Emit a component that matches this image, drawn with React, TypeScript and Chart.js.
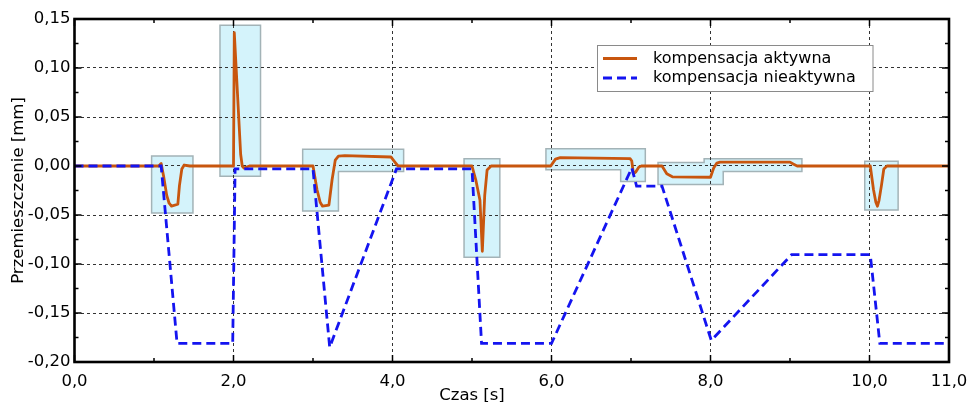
import React, { useEffect, useRef } from 'react';
import { Chart, registerables } from 'chart.js';

Chart.register(...registerables);

// ---- data ----
const seriesLabels = ['kompensacja aktywna', 'kompensacja nieaktywna'];

const activeX = [
  0, 1.06, 1.09, 1.12, 1.16, 1.19, 1.22, 1.30, 1.32, 1.35, 1.38, 1.45,
  2.0, 2.01, 2.09, 2.11, 2.13, 2.2,
  3.0, 3.05, 3.09, 3.12, 3.2, 3.24, 3.28, 3.32, 3.4, 3.98, 4.03, 4.07,
  5.0, 5.05, 5.1, 5.13, 5.16, 5.19, 5.24,
  5.99, 6.05, 6.11, 6.99, 7.01, 7.03, 7.06, 7.1, 7.13,
  7.39, 7.45, 7.52, 8.0, 8.04, 8.08, 8.12, 9.0, 9.04, 9.09,
  10.01, 10.05, 10.08, 10.1, 10.12, 10.15, 10.18, 10.22, 11,
];
const activeY = [
  0, 0, 0.0025, -0.01, -0.03, -0.038, -0.041, -0.039, -0.02, -0.003, 0.001, 0,
  0, 0.136, 0.012, 0, -0.002, 0,
  0, -0.024, -0.037, -0.041, -0.04, -0.014, 0.006, 0.01, 0.0105, 0.0092, 0.004, 0,
  0, -0.015, -0.035, -0.087, -0.03, -0.004, 0,
  0, 0.007, 0.0085, 0.0075, 0.005, -0.008, -0.006, -0.001, 0,
  0, -0.008, -0.011, -0.0115, -0.002, 0.003, 0.004, 0.004, 0.002, 0,
  0, -0.024, -0.037, -0.041, -0.035, -0.02, -0.003, 0, 0,
];

const inactiveX = [0, 1.09, 1.29, 1.99, 2.02, 3.0, 3.21, 4.05, 5.0, 5.12, 6.0, 7.01, 7.07, 7.39, 8.01, 9.02, 10.01, 10.13, 11];
const inactiveY = [0, 0, -0.181, -0.181, -0.003, -0.003, -0.185, -0.003, -0.003, -0.181, -0.181, -0.002, -0.0205, -0.0205, -0.178, -0.0905, -0.0905, -0.181, -0.181];

// highlighted regions (polygons in data units: [time, displacement])
const regionBoxes: number[][][] = [
  [[0.97, 0.0102], [1.49, 0.0102], [1.49, -0.048], [0.97, -0.048]],
  [[1.83, 0.1436], [2.34, 0.1436], [2.34, -0.0105], [1.83, -0.0105]],
  [[2.87, 0.017], [4.14, 0.017], [4.14, -0.0057], [3.32, -0.0057], [3.32, -0.046], [2.87, -0.046]],
  [[4.9, 0.0075], [5.35, 0.0075], [5.35, -0.093], [4.9, -0.093]],
  [[5.93, 0.0177], [7.18, 0.0177], [7.18, -0.0159], [6.87, -0.0159], [6.87, -0.0037], [5.93, -0.0037]],
  [[7.34, 0.0035], [7.92, 0.0035], [7.92, 0.0075], [9.15, 0.0075], [9.15, -0.0057], [8.16, -0.0057], [8.16, -0.019], [7.34, -0.019]],
  [[9.94, 0.0048], [10.36, 0.0048], [10.36, -0.045], [9.94, -0.045]],
];

const xTickValues = [0, 2, 4, 6, 8, 10, 11];
const xMinorValues = [1, 3, 5, 7, 9];
const yTickValues = [-0.2, -0.15, -0.1, -0.05, 0, 0.05, 0.1, 0.15];
const yMinorValues = [-0.175, -0.125, -0.075, -0.025, 0.025, 0.075, 0.125];
const xTitle = 'Czas [s]';
const yTitle = 'Przemieszczenie [mm]';
const xTitleAt = 5;

const FONT = 'DejaVu Sans';
const ORANGE = '#c8560e';
const BLUE = '#1414f0';

const fmt = (v: number, d: number) => v.toFixed(d).replace('.', ',');

const regionsPlugin = {
  id: 'regions',
  beforeDraw(chart: any) {
    const { ctx, chartArea, scales } = chart;
    const x = scales.x, y = scales.y;
    ctx.save();
    ctx.fillStyle = '#ffffff';
    ctx.fillRect(0, 0, chart.width, chart.height);
    ctx.beginPath();
    ctx.rect(chartArea.left, chartArea.top, chartArea.right - chartArea.left, chartArea.bottom - chartArea.top);
    ctx.clip();
    for (const poly of regionBoxes) {
      ctx.beginPath();
      poly.forEach(([vx, vy], i) => {
        const px = x.getPixelForValue(vx);
        const py = y.getPixelForValue(vy);
        if (i === 0) ctx.moveTo(px, py); else ctx.lineTo(px, py);
      });
      ctx.closePath();
      ctx.fillStyle = '#d4f3fb';
      ctx.fill();
      ctx.strokeStyle = '#a3b3b7';
      ctx.lineWidth = 1.5;
      ctx.stroke();
    }
    ctx.restore();
  },
};

const framePlugin = {
  id: 'frame',
  afterDraw(chart: any) {
    const { ctx, chartArea, scales } = chart;
    const { left, right, top, bottom } = chartArea;
    const x = scales.x, y = scales.y;
    ctx.save();
    ctx.strokeStyle = '#000';
    ctx.lineWidth = 1.5;
    const line = (x1: number, y1: number, x2: number, y2: number) => {
      ctx.beginPath(); ctx.moveTo(x1, y1); ctx.lineTo(x2, y2); ctx.stroke();
    };
    const xt = (v: number, len: number) => {
      const p = x.getPixelForValue(v);
      line(p, bottom, p, bottom - len);
      line(p, top, p, top + len);
    };
    const yt = (v: number, len: number) => {
      const p = y.getPixelForValue(v);
      line(left, p, left + len, p);
      line(right, p, right - len, p);
    };
    xTickValues.forEach((v) => xt(v, 7));
    xMinorValues.forEach((v) => xt(v, 4));
    yTickValues.forEach((v) => yt(v, 7));
    yMinorValues.forEach((v) => yt(v, 4));
    ctx.lineWidth = 2.6;
    ctx.strokeRect(left, top, right - left, bottom - top);

    // x axis title
    ctx.fillStyle = '#000';
    ctx.font = `16.5px "${FONT}"`;
    ctx.textAlign = 'center';
    ctx.textBaseline = 'alphabetic';
    ctx.fillText(xTitle, x.getPixelForValue(xTitleAt), 400);

    // legend
    const lx = 597.5, ly = 45.5, lw = 275.5, lh = 46;
    ctx.fillStyle = '#fff';
    ctx.fillRect(lx, ly, lw, lh);
    ctx.strokeStyle = '#8a8a8a';
    ctx.lineWidth = 1;
    ctx.strokeRect(lx, ly, lw, lh);
    ctx.font = `16px "${FONT}"`;
    const rows = [
      { color: ORANGE, dash: [] as number[], yy: 58.5 },
      { color: BLUE, dash: [9, 5], yy: 78 },
    ];
    rows.forEach((r, i) => {
      ctx.strokeStyle = r.color;
      ctx.lineWidth = 2.8;
      ctx.setLineDash(r.dash);
      line(603, r.yy, 637, r.yy);
      ctx.setLineDash([]);
      ctx.fillStyle = '#000';
      ctx.textAlign = 'left';
      ctx.textBaseline = 'middle';
      ctx.fillText(seriesLabels[i], 653, r.yy);
    });
    ctx.restore();
  },
};

export default function App() {
  const ref = useRef<HTMLCanvasElement | null>(null);
  useEffect(() => {
    document.body.style.margin = '0';
    const canvas = ref.current;
    if (!canvas) return;
    const chart = new Chart(canvas, {
      type: 'line',
      data: {
        datasets: [
          {
            label: seriesLabels[0],
            data: activeX.map((v, i) => ({ x: v, y: activeY[i] })),
            borderColor: ORANGE,
            borderWidth: 2.8,
            pointRadius: 0,
            tension: 0,
            fill: false,
            order: 2,
            borderJoinStyle: 'round',
          },
          {
            label: seriesLabels[1],
            data: inactiveX.map((v, i) => ({ x: v, y: inactiveY[i] })),
            borderColor: BLUE,
            borderWidth: 2.8,
            borderDash: [9, 5],
            pointRadius: 0,
            tension: 0,
            fill: false,
            order: 1,
          },
        ],
      },
      options: {
        responsive: false,
        animation: false,
        events: [],
        layout: { padding: { left: 0, right: 22, top: 19, bottom: 0 } },
        plugins: { legend: { display: false }, tooltip: { enabled: false } },
        scales: {
          x: {
            type: 'linear',
            min: 0,
            max: 11,
            afterBuildTicks: (s: any) => { s.ticks = xTickValues.map((v) => ({ value: v })); },
            afterFit: (s: any) => { s.height = 40; s.paddingLeft = 0; s.paddingRight = 0; },
            ticks: {
              color: '#000',
              font: { family: FONT, size: 16.5 },
              padding: 10,
              maxRotation: 0,
              autoSkip: false,
              callback: (v: any) => fmt(Number(v), 1),
            },
            grid: {
              drawTicks: false,
              color: (c: any) => (c.tick && (c.tick.value === 0 || c.tick.value === 11) ? 'rgba(0,0,0,0)' : '#333'),
              lineWidth: 1,
            },
            border: { display: false, dash: [3, 3] },
          },
          y: {
            type: 'linear',
            min: -0.2,
            max: 0.15,
            afterBuildTicks: (s: any) => { s.ticks = yTickValues.map((v) => ({ value: v })); },
            afterFit: (s: any) => { s.width = 74.5; s.paddingTop = 0; s.paddingBottom = 0; },
            ticks: {
              color: '#000',
              font: { family: FONT, size: 16.5 },
              padding: 4,
              autoSkip: false,
              callback: (v: any) => fmt(Number(v), 2),
            },
            title: {
              display: true,
              text: yTitle,
              color: '#000',
              font: { family: FONT, size: 16.5 },
              padding: { top: 9, bottom: 0 },
            },
            grid: {
              drawTicks: false,
              color: (c: any) => (c.tick && (Math.abs(c.tick.value - 0.15) < 1e-9 || Math.abs(c.tick.value + 0.2) < 1e-9) ? 'rgba(0,0,0,0)' : '#333'),
              lineWidth: 1,
            },
            border: { display: false, dash: [3, 3] },
          },
        },
      },
      plugins: [regionsPlugin, framePlugin],
    } as any);
    return () => chart.destroy();
  }, []);
  return (
    <div style={{ position: 'absolute', left: 0, top: 0, width: 971, height: 402 }}>
      <canvas ref={ref} width={971} height={402} style={{ display: 'block' }} />
    </div>
  );
}
